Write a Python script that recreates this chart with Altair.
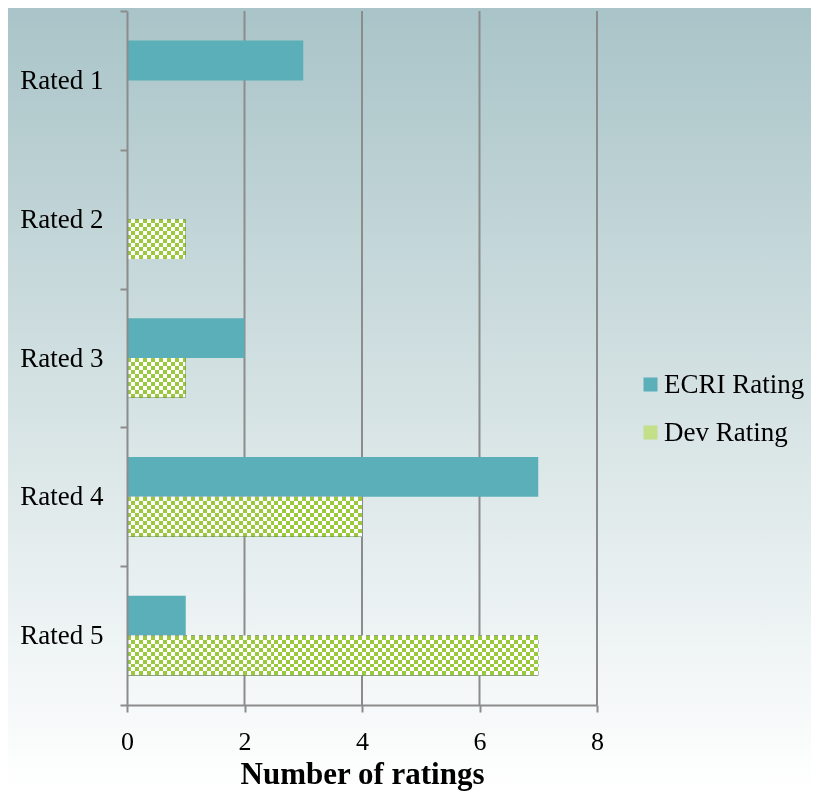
import altair as alt
import pandas as pd

# ---------------- data ----------------
categories = ["Rated 1", "Rated 2", "Rated 3", "Rated 4", "Rated 5"]
ecri_values = [3, 0, 2, 7, 1]
dev_values = [0, 1, 1, 4, 7]
series_names = ["ECRI Rating", "Dev Rating"]
x_ticks = [0, 2, 4, 6, 8]

rows = []
for c, e, d in zip(categories, ecri_values, dev_values):
    rows.append({"category": c, "series": "ECRI Rating", "value": e})
    rows.append({"category": c, "series": "Dev Rating", "value": d})
df = pd.DataFrame(rows)
grid_df = pd.DataFrame({"g": x_ticks[1:]})

# ---------------- style ----------------
TEAL = "#5BAFB8"
GREEN = "#9ACA3C"
LEG_GREEN = "#C3DF88"
GRID = "#8C8C8C"
FONT = "Liberation Serif"

W, H = 470, 694
PAD = {"left": 119, "top": 3, "right": 214, "bottom": 86}
OUTER = 0.741  # yOffset outer padding -> ~40px bars

band = H / len(categories)
bar_px = band / (2 + 2 * OUTER)
cell_px = bar_px / 10.0
px_per_unit = W / 8.0


def stripes(n, horizontal):
    stops = []
    k = 0
    while k < n:
        col = "#ffffff" if k % 2 == 0 else "#000000"
        a = k / n
        b = min((k + 1) / n, 1.0)
        stops.append({"offset": a, "color": col})
        stops.append({"offset": b, "color": col})
        k += 1
    return {
        "gradient": "linear",
        "x1": 0, "y1": 0,
        "x2": 1 if horizontal else 0,
        "y2": 0 if horizontal else 1,
        "stops": stops,
    }


x_axis = alt.Axis(values=x_ticks, grid=False, domainColor=GRID, domainWidth=2,
                  tickColor=GRID, tickWidth=2, tickSize=7, labelFlush=False,
                  labelFont=FONT, labelFontSize=26, labelColor="black", labelPadding=16,
                  title="Number of ratings", titleFont=FONT, titleFontSize=31,
                  titleFontWeight="bold", titleColor="black", titlePadding=5, zindex=1)
y_axis = alt.Axis(title=None, grid=False, tickBand="extent", domainColor=GRID, domainWidth=2,
                  tickColor=GRID, tickWidth=2, tickSize=7,
                  labelFont=FONT, labelFontSize=27, labelColor="black", labelPadding=17,
                  zindex=1)

x_scale = alt.Scale(domain=[0, 8], nice=False)
y_enc = alt.Y("category:N", sort=categories,
              scale=alt.Scale(domain=categories, paddingInner=0, paddingOuter=0), axis=y_axis)
yoff_enc = alt.YOffset("series:N", sort=series_names,
                       scale=alt.Scale(domain=series_names, paddingInner=0, paddingOuter=OUTER))


def x_enc(field="value:Q"):
    return alt.X(field, scale=x_scale, axis=x_axis)


base = alt.Chart(df)

bg = alt.Chart(alt.Data(values=[{"k": 1}])).mark_rect(
    fill={"gradient": "linear", "x1": 0, "y1": 0, "x2": 0, "y2": 1,
          "stops": [{"offset": 0, "color": "#A9C4C8"},
                    {"offset": 0.55, "color": "#D9E5E6"},
                    {"offset": 1, "color": "#FFFFFF"}]}
).encode(
    x=alt.value(-PAD["left"]), x2=alt.value(W + PAD["right"]),
    y=alt.value(-PAD["top"]), y2=alt.value(H + PAD["bottom"]),
)

grid = alt.Chart(grid_df).mark_rule(color=GRID, strokeWidth=2).encode(x=x_enc("g:Q"))

ecri = base.transform_filter(
    "datum.series == 'ECRI Rating' && datum.value > 0"
).mark_bar(stroke=None).encode(
    x=x_enc(), y=y_enc, yOffset=yoff_enc,
    color=alt.Color("series:N", sort=series_names,
                    scale=alt.Scale(domain=series_names, range=[TEAL, LEG_GREEN]),
                    legend=alt.Legend(title=None, orient="none", legendX=510, legendY=360,
                                      labelFont=FONT, labelFontSize=27, labelColor="black",
                                      symbolType="square", symbolSize=196, symbolStrokeWidth=0,
                                      rowPadding=20, labelOffset=0, zindex=1)),
)

dev_base = base.transform_filter("datum.series == 'Dev Rating' && datum.value > 0")

dev_rows = dev_base.mark_bar(fill=stripes(10, False), stroke=None).encode(
    x=x_enc(), y=y_enc, yOffset=yoff_enc)

col_layers = []
for v in sorted(set(v for v in dev_values if v > 0)):
    n_cols = v * px_per_unit / cell_px
    col_layers.append(
        dev_base.transform_filter(f"datum.value == {v}").mark_bar(
            fill=stripes(n_cols, True), stroke=None, blend="difference"
        ).encode(x=x_enc(), y=y_enc, yOffset=yoff_enc)
    )

dev_tint = dev_base.mark_bar(fill=GREEN, stroke=None, blend="lighten").encode(
    x=x_enc(), y=y_enc, yOffset=yoff_enc)

chart = alt.layer(bg, grid, ecri, dev_rows, *col_layers, dev_tint).properties(
    width=W, height=H, padding=PAD, autosize="none"
).configure_view(stroke=None)

chart.save("out.html", embed_options={"renderer": "svg", "actions": False})
